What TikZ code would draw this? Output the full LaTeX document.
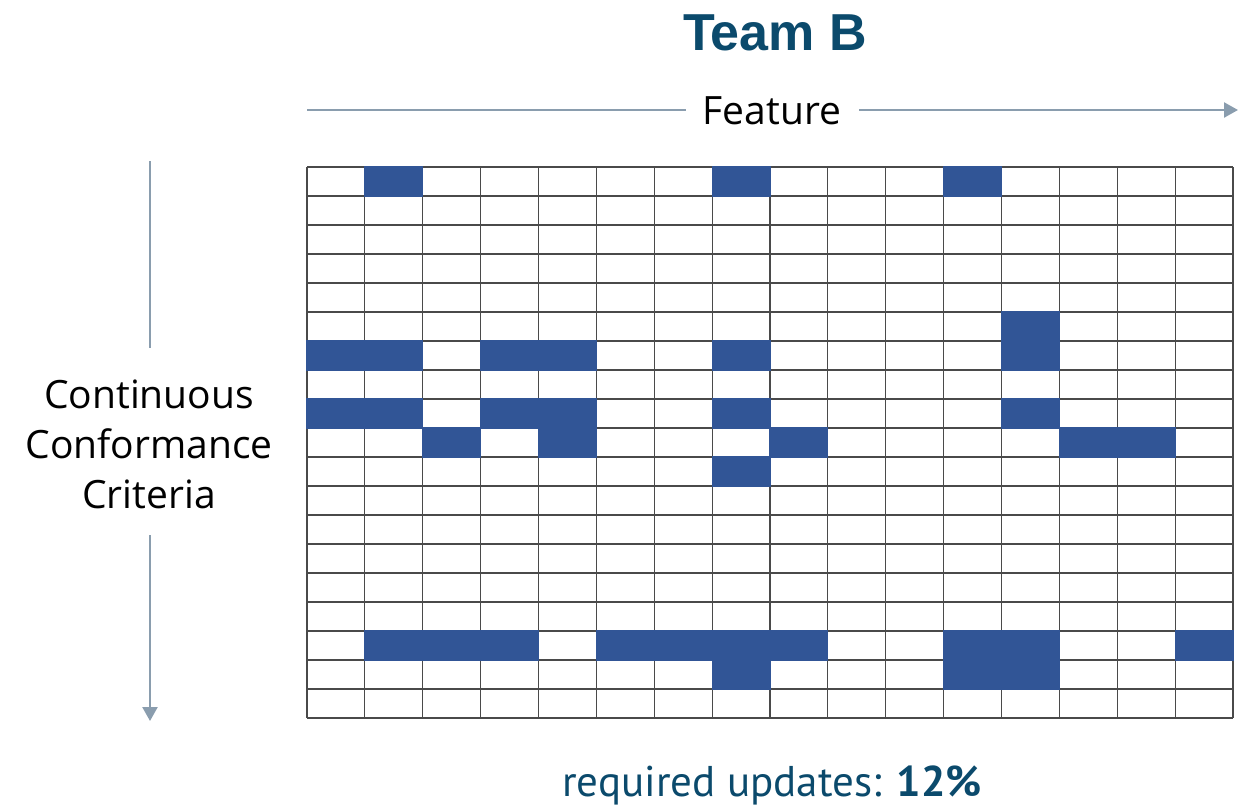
\documentclass[tikz,border=0pt]{standalone}
\usepackage{fontspec}
\setmainfont{Open Sans}
\newfontfamily\titlefont{Liberation Sans}
\newfontfamily\notefont{PT Sans}
\usetikzlibrary{arrows.meta}
\definecolor{titleblue}{HTML}{0B4A6C}
\definecolor{cellblue}{HTML}{315596}
\definecolor{axisgray}{HTML}{8A9DAE}
\definecolor{gridgray}{HTML}{4A4A4A}
\tikzset{
  axis/.style={draw=axisgray, line width=2.4pt},
  axishead/.style={axis, -{Triangle[length=14pt,width=15pt]}},
  gridline/.style={draw=gridgray, line width=1.2pt},
  hit/.style={fill=cellblue},
  lbl/.style={inner sep=0pt, align=center},
}
\begin{document}
\begin{tikzpicture}[x=1pt,y=-1pt]
\useasboundingbox (0,0) rectangle (1239,809);
\def\gx{307}\def\gy{167}\def\cw{57.875}\def\rh{29}
% grid
\foreach \i in {0,...,16} {
  \draw[gridline] ({\gx+\i*\cw},\gy) -- ({\gx+\i*\cw},{\gy+19*\rh});
}
\foreach \j in {0,...,19} {
  \draw[gridline] (\gx,{\gy+\j*\rh}) -- ({\gx+16*\cw},{\gy+\j*\rh});
}
% filled cells (column,row)
\foreach \c/\r in {1/0,7/0,11/0,
  12/5,
  0/6,1/6,3/6,4/6,7/6,12/6,
  0/8,1/8,3/8,4/8,7/8,12/8,
  2/9,4/9,8/9,13/9,14/9,
  7/10,
  1/16,2/16,3/16,5/16,6/16,7/16,8/16,11/16,12/16,15/16,
  7/17,11/17,12/17} {
  \fill[hit] ({\gx+\c*\cw-0.6},{\gy+\r*\rh-0.6}) rectangle ({\gx+(\c+1)*\cw+0.6},{\gy+(\r+1)*\rh+0.6});
}
% title
\node[lbl, text=titleblue, font=\titlefont\bfseries\fontsize{52}{60}\selectfont] (title) at (775,33) {Team B};
% feature axis
\node[lbl, font=\fontsize{39}{44}\selectfont] (feature) at (772,111) {Feature};
\coordinate (fa) at (307,110);
\coordinate (fb) at (1238,110);
\draw[axis] (fa) -- ([xshift=-17pt]feature.west |- fa);
\draw[axishead] ([xshift=18pt]feature.east |- fb) -- (fb);
% criteria axis
\node[lbl, font=\fontsize{39}{50}\selectfont] (criteria) at (149,444) {Continuous\\Conformance\\Criteria};
\coordinate (va) at (150,161);
\coordinate (vb) at (150,721);
\draw[axis] (va) -- (va |- 0,348);
\draw[axishead] (vb |- 0,535) -- (vb);
% result
\node[lbl, anchor=base, text=titleblue, font=\notefont\fontsize{43}{50}\selectfont] (result) at (772,796) {required updates: \textbf{12\%}};
\end{tikzpicture}
\end{document}
